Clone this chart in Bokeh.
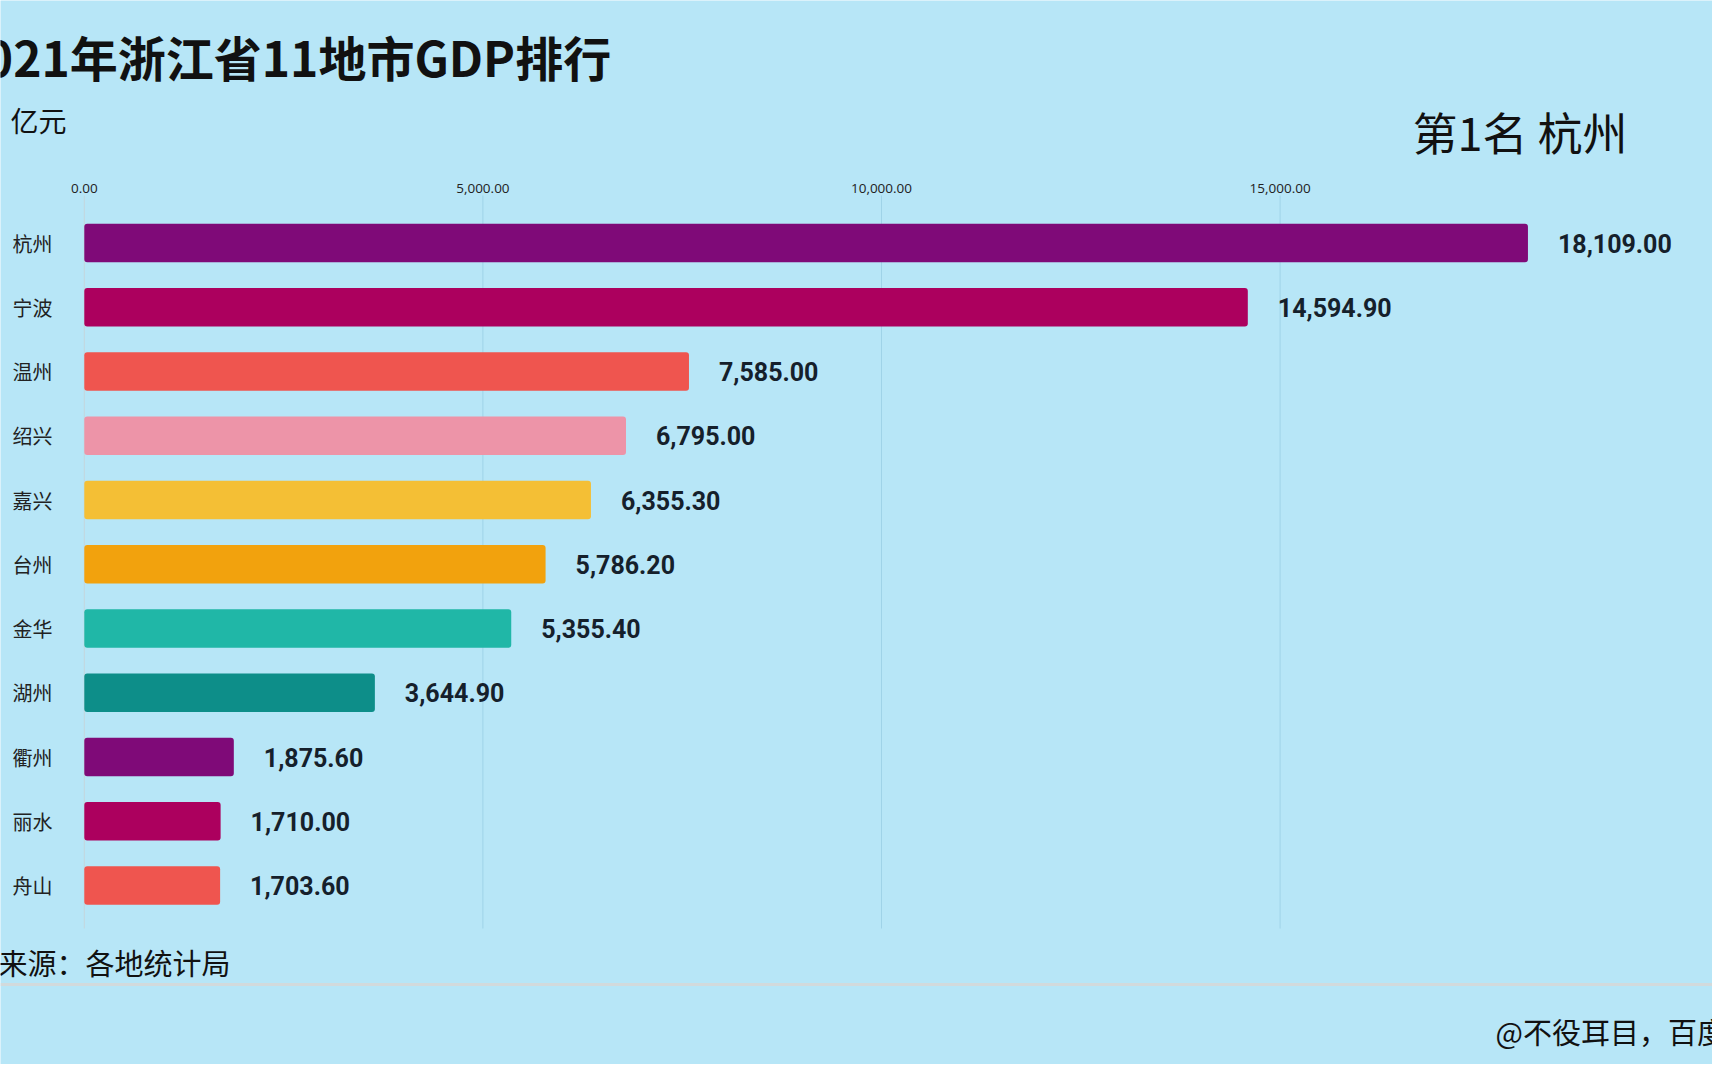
from bokeh.plotting import figure
from bokeh.models import Range1d, Label, Span, ColumnDataSource
from bokeh.core.properties import value
from bokeh.embed import file_html
from bokeh.resources import INLINE

# ---- data ----
cities = ["杭州", "宁波", "温州", "绍兴", "嘉兴", "台州", "金华", "湖州", "衢州", "丽水", "舟山"]
gdp = [18109.00, 14594.90, 7585.00, 6795.00, 6355.30, 5786.20, 5355.40, 3644.90, 1875.60, 1710.00, 1703.60]
bar_colors = ["#7f0a78", "#ac005e", "#ef554f", "#ed94a8", "#f4bf35", "#f2a20d",
              "#20b7a7", "#0d8e89", "#7f0a78", "#ac005e", "#ef554f"]
x_ticks = [0, 5000, 10000, 15000]
title_text = "2021年浙江省11地市GDP排行"
unit_text = "单位：亿元"
rank_text = "第1名 杭州"
source_text = "数据来源：各地统计局"
credit_text = "@不役耳目，百度"

BG = "#b7e6f7"
CJK = "Noto Sans CJK SC"
TXT = "#15202b"

W, H = 1712, 1064
# layout constants (pixels)
zero_x = 83.8          # canvas x of value 0
ppu = 0.07972          # pixels per unit of GDP
row0_y = 242.5         # canvas y of first row centre
row_h = 64.25          # pixels per row


def dx(px):  # canvas x -> data x
    return (px - zero_x) / ppu


def dy(py):  # canvas y -> data y (row index)
    return (py - row0_y) / row_h


p = figure(width=W, height=H, output_backend="svg", toolbar_location=None,
           x_range=Range1d(dx(0), dx(W)), y_range=Range1d(dy(H), dy(0)),
           x_axis_location=None, y_axis_location=None,
           min_border=0, min_border_left=0, min_border_right=0,
           min_border_top=0, min_border_bottom=0)
p.background_fill_color = BG
p.border_fill_color = BG
p.outline_line_color = None
p.grid.visible = False

rows = list(range(len(cities)))
src = ColumnDataSource(dict(row=rows, city=cities, gdp=gdp, color=bar_colors,
                            label=[f"{v:,.2f}" for v in gdp]))

# grid lines
grid_src = ColumnDataSource(dict(x=x_ticks, label=[f"{t:,.2f}" for t in x_ticks],
                                 color=["#c3d6dd"] + ["#9fd3e8"] * (len(x_ticks) - 1)))
p.segment(x0="x", x1="x", y0=dy(195), y1=dy(928), line_color="color",
          line_width=1, source=grid_src)
# tick labels (top axis)
p.text(x="x", y=dy(188), text="label", source=grid_src, text_align="center",
       text_baseline="middle", text_font=value("Open Sans"),
       text_font_size="13.5px", text_color="#222222")

# bars
p.hbar(y="row", left=0, right="gdp", height=0.6, fill_color="color",
       line_color=None, border_radius=3, source=src)
# value labels
p.text(x="gdp", y="row", text="label", source=src, x_offset=30,
       text_baseline="middle", text_align="left",
       text_font=value("Roboto"), text_font_style="bold",
       text_font_size="25px", text_color=TXT)
# category labels
p.text(x=dx(12), y="row", text="city", source=src, text_baseline="middle",
       text_align="left", text_font=value(CJK), text_font_size="20px",
       text_color="#222222")


def lab(text, px, py, size, style="normal"):
    p.add_layout(Label(x=px, y=H - py, x_units="screen", y_units="screen",
                       text=text, text_font=CJK, text_font_size=size,
                       text_font_style=style, text_color="#111111",
                       text_baseline="middle", text_align="left"))


lab(title_text, -44, 55, "48px", "bold")
lab(unit_text, -74, 119, "28px")
lab(rank_text, 1412, 131, "45px")
lab(source_text, -60, 961, "29px")
lab(credit_text, 1495, 1030, "29px")

p.add_layout(Span(location=H - 984, location_units="screen", dimension="width",
                  line_color="#d2dadc", line_width=3))

open("out.html", "w").write(file_html(p, INLINE))
